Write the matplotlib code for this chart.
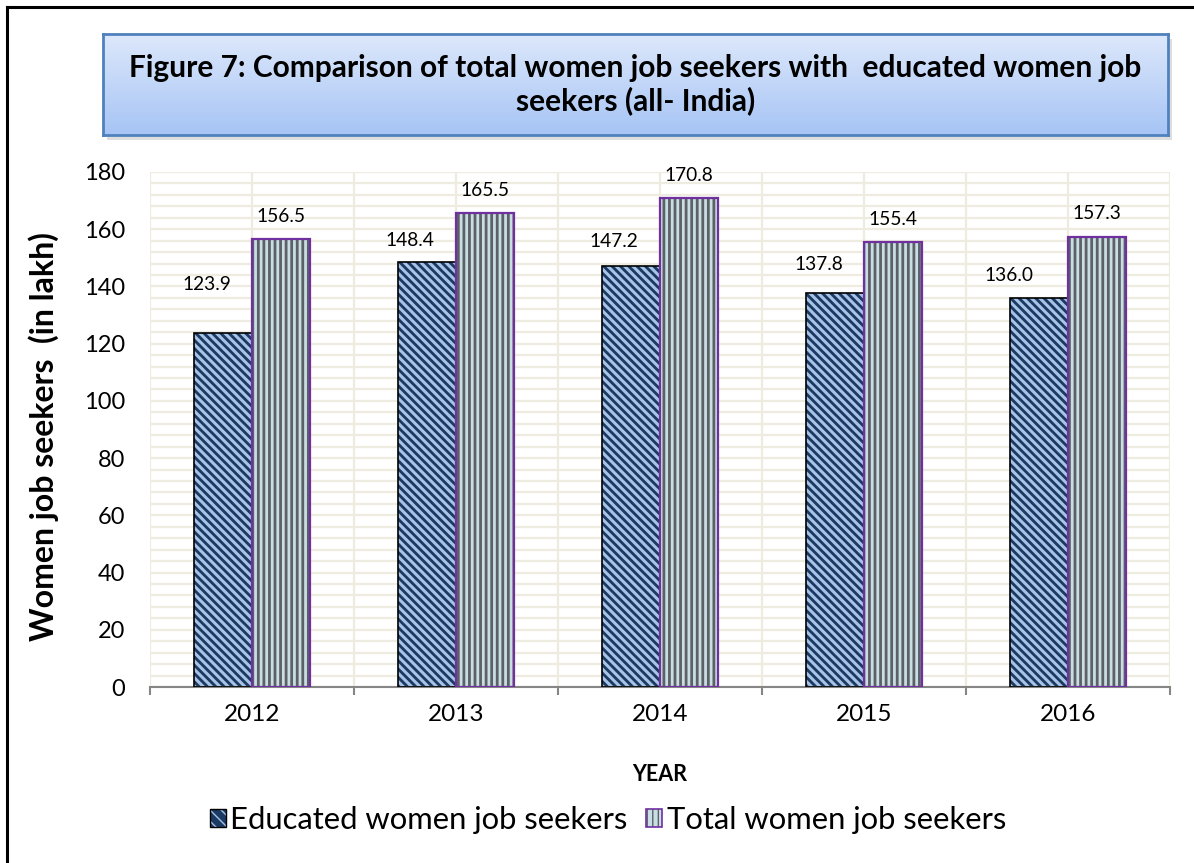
import matplotlib
matplotlib.use("Agg")
import matplotlib.pyplot as plt
import numpy as np
from matplotlib.patches import Rectangle, Patch
from matplotlib.lines import Line2D
from matplotlib.legend_handler import HandlerTuple

years = ["2012", "2013", "2014", "2015", "2016"]
educated = [123.9, 148.4, 147.2, 137.8, 136.0]
total = [156.5, 165.5, 170.8, 155.4, 157.3]
edu_labels = ["123.9", "148.4", "147.2", "137.8", "136.0"]
tot_labels = ["156.5", "165.5", "170.8", "155.4", "157.3"]
series_names = ["Educated women job seekers", "Total women job seekers"]
title_text = "Figure 7: Comparison of total women job seekers with  educated women job\nseekers (all- India)"
ylabel_text = "Women job seekers  (in lakh)"
xlabel_text = "YEAR"

# label offsets (pixels) -- styling only
edu_dx = [-16, -17, -17, -16, -30]
edu_dy = [48, 22, 24, 28, 22]

FONT = ["Lato", "DejaVu Sans"]
plt.rcParams["font.family"] = FONT

W, H = 1194, 863
fig = plt.figure(figsize=(W / 100, H / 100), dpi=100)
fig.patch.set_facecolor("white")

def fx(px):
    return px / W

def fy(py):
    return 1 - py / H

# outer border (top and left visible)
fig.add_artist(Line2D([fx(7), fx(7)], [fy(7), 0], transform=fig.transFigure, color="black", lw=2.2))
fig.add_artist(Line2D([fx(7), 1.0], [fy(7), fy(7)], transform=fig.transFigure, color="black", lw=2.2))

# title box with shadow and gradient
bx0, bx1, by0, by1 = 103, 1168, 34, 135
fig.add_artist(Rectangle((fx(bx0 + 4), fy(by1 + 5)), fx(bx1 - bx0), fy(by0) - fy(by1),
                         transform=fig.transFigure, facecolor="#C8C8C8", edgecolor="none", alpha=0.6, zorder=0))
tax = fig.add_axes([fx(bx0), fy(by1), fx(bx1 - bx0), fy(by0) - fy(by1)])
top_c = np.array(matplotlib.colors.to_rgb("#DDE8FB"))
bot_c = np.array(matplotlib.colors.to_rgb("#A6C4F5"))
t = np.linspace(0, 1, 256)[:, None]
grad = top_c[None, None, :] * (1 - t[:, :, None]) + bot_c[None, None, :] * t[:, :, None]
tax.imshow(grad, aspect="auto", extent=[0, 1, 0, 1], origin="upper")
tax.set_xticks([])
tax.set_yticks([])
for s in tax.spines.values():
    s.set_color("#4F81BD")
    s.set_linewidth(2)
tax.text(0.5, 0.5, title_text, ha="center", va="center", fontsize=21.5, fontweight="bold",
         linespacing=1.2, transform=tax.transAxes)

# main axes
ax = fig.add_axes([fx(150), fy(687), fx(1170 - 150), fy(172) - fy(687)])
x = np.arange(len(years))
bw = 0.285
ax.set_xlim(-0.5, len(years) - 0.5)
ax.set_ylim(0, 180)

# grid
grid_c = "#EEECE1"
ax.set_yticks(np.arange(0, 181, 20))
ax.set_yticks(np.arange(0, 181, 4), minor=True)
ax.set_xticks(x)
ax.set_xticks(np.arange(-0.5, len(years), 1.0), minor=True)
ax.grid(True, which="both", axis="y", color=grid_c, lw=1.6, zorder=0)
ax.grid(True, which="both", axis="x", color=grid_c, lw=1.6, zorder=0)
ax.set_axisbelow(True)

def set_hlw(bars, lw):
    for b in bars:
        try:
            b.set_hatch_linewidth(lw)
        except Exception:
            pass

with plt.rc_context({"hatch.linewidth": 2.2}):
    b1 = ax.bar(x - bw / 2, educated, bw, color="#1B3A63", edgecolor="#A9C3E6", linewidth=0,
                hatch="\\\\\\\\", zorder=2)
    set_hlw(b1, 2.2)
ax.bar(x - bw / 2, educated, bw, facecolor="none", edgecolor="black", linewidth=1.2, zorder=3)

with plt.rc_context({"hatch.linewidth": 2.0}):
    b2 = ax.bar(x + bw / 2, total, bw, color="#C9DDE4", edgecolor="#5C6166", linewidth=0,
                hatch="|||", zorder=2)
    set_hlw(b2, 2.0)
ax.bar(x + bw / 2, total, bw, facecolor="none", edgecolor="#7030A0", linewidth=1.6, zorder=3)

# data labels
for i in range(len(years)):
    ax.annotate(edu_labels[i], (x[i] - bw / 2, educated[i]), xytext=(edu_dx[i], edu_dy[i]),
                textcoords="offset pixels", ha="center", va="center", fontsize=13.8)
    ax.annotate(tot_labels[i], (x[i] + bw / 2, total[i]), xytext=(0, 23),
                textcoords="offset pixels", ha="center", va="center", fontsize=13.8)

# spines and ticks
for side in ["top", "right", "left"]:
    ax.spines[side].set_visible(False)
ax.spines["bottom"].set_color("#868686")
ax.spines["bottom"].set_linewidth(1.5)
ax.set_xticklabels(years, fontsize=17.5)
ax.tick_params(axis="x", which="major", length=0, pad=12)
ax.tick_params(axis="x", which="minor", length=6, width=1.5, color="#868686")
ax.tick_params(axis="y", which="both", length=0, pad=18, labelsize=17)
ax.set_xlabel(xlabel_text, fontsize=15.5, fontweight="bold")
ax.xaxis.set_label_coords(0.5, (687 - 764) / 515)
ax.set_ylabel(ylabel_text, fontsize=23, fontweight="bold")
ax.yaxis.set_label_coords((59 - 150) / 1020, (687 - 437) / 515)

# legend
with plt.rc_context({"hatch.linewidth": 1.8}):
    h1a = Patch(facecolor="#1B3A63", edgecolor="#A9C3E6", linewidth=0, hatch="\\\\\\")
h1b = Patch(facecolor="none", edgecolor="black", linewidth=1.0)
with plt.rc_context({"hatch.linewidth": 1.5}):
    h2a = Patch(facecolor="#C9DDE4", edgecolor="#5C6166", linewidth=0, hatch="|||")
h2b = Patch(facecolor="none", edgecolor="#7030A0", linewidth=1.2)
leg = fig.legend([(h1a, h1b), (h2a, h2b)], series_names, loc="center", bbox_to_anchor=(fx(608), fy(820)),
                 ncol=2, frameon=False, fontsize=22.3, handlelength=0.52, handleheight=0.52,
                 handletextpad=0.15, columnspacing=0.6,
                 handler_map={tuple: HandlerTuple(ndivide=1, pad=0)})

fig.savefig("out.png", dpi=100)
